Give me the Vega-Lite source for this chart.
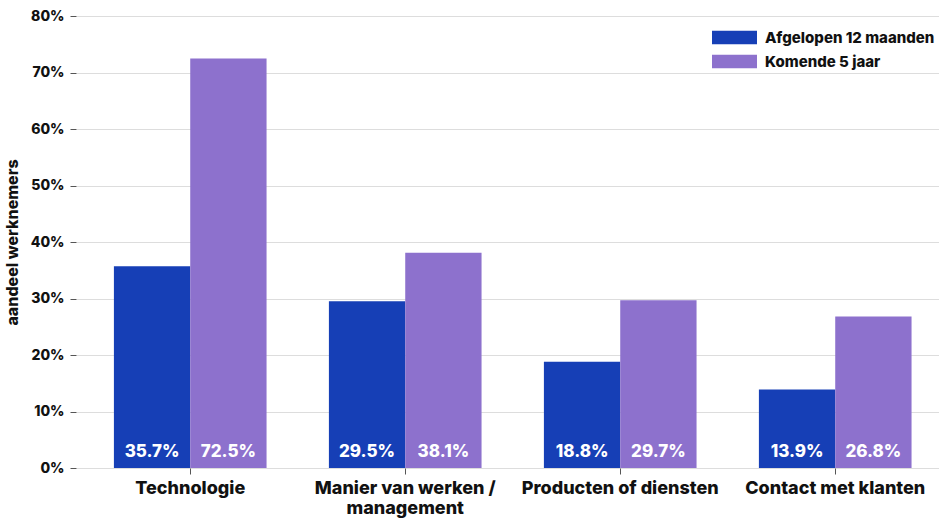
{
  "$schema": "https://vega.github.io/schema/vega-lite/v6.json",
  "autosize": "none",
  "width": 863,
  "height": 452,
  "padding": {"left": 76, "top": 16, "right": 0, "bottom": 50},
  "background": "white",
  "config": {
    "font": "Inter",
    "view": {"stroke": null}
  },
  "data": {
    "values": [
      {"categorie": "Technologie", "periode": "Afgelopen 12 maanden", "waarde": 35.7},
      {"categorie": "Technologie", "periode": "Komende 5 jaar", "waarde": 72.5},
      {"categorie": "Manier van werken / management", "periode": "Afgelopen 12 maanden", "waarde": 29.5},
      {"categorie": "Manier van werken / management", "periode": "Komende 5 jaar", "waarde": 38.1},
      {"categorie": "Producten of diensten", "periode": "Afgelopen 12 maanden", "waarde": 18.8},
      {"categorie": "Producten of diensten", "periode": "Komende 5 jaar", "waarde": 29.7},
      {"categorie": "Contact met klanten", "periode": "Afgelopen 12 maanden", "waarde": 13.9},
      {"categorie": "Contact met klanten", "periode": "Komende 5 jaar", "waarde": 26.8}
    ]
  },
  "transform": [
    {"calculate": "format(datum.waarde, '.1f') + '%'", "as": "label"}
  ],
  "encoding": {
    "x": {
      "field": "categorie",
      "type": "nominal",
      "sort": null,
      "scale": {"paddingInner": 0.29, "paddingOuter": 0.152, "align": 0.58},
      "axis": {
        "title": null,
        "labelAngle": 0,
        "labelFontSize": 18,
        "labelFontWeight": 800,
        "labelColor": "#111",
        "labelPadding": 5,
        "labelLineHeight": 20,
        "labelLimit": 0,
        "labelOverlap": false,
        "tickSize": 6,
        "tickColor": "#555",
        "domain": false,
        "labelExpr": "datum.label == 'Manier van werken / management' ? ['Manier van werken /', 'management'] : datum.label"
      }
    },
    "xOffset": {"field": "periode", "type": "nominal", "sort": null},
    "y": {
      "field": "waarde",
      "type": "quantitative",
      "scale": {"domain": [0, 80]},
      "axis": {
        "title": "aandeel werknemers",
        "titleFontSize": 16,
        "titleFontWeight": 800,
        "titleColor": "#111",
        "titlePadding": 10,
        "values": [0, 10, 20, 30, 40, 50, 60, 70, 80],
        "labelExpr": "datum.value + '%'",
        "labelFontSize": 14,
        "labelFontWeight": 800,
        "labelColor": "#111",
        "labelPadding": 6,
        "tickSize": 6,
        "tickColor": "#555",
        "domain": false,
        "gridColor": "#dddddd",
        "gridWidth": 1
      }
    }
  },
  "layer": [
    {
      "mark": {"type": "bar"},
      "encoding": {
        "color": {
          "field": "periode",
          "type": "nominal",
          "sort": null,
          "scale": {"domain": ["Afgelopen 12 maanden", "Komende 5 jaar"], "range": ["#163fb6", "#8d71cd"]},
          "legend": {
            "title": null,
            "orient": "none",
            "legendX": 651,
            "legendY": 14,
            "labelFontSize": 15,
            "labelFontWeight": 800,
            "labelColor": "#111",
            "labelLimit": 0,
            "symbolType": "M-3,-0.9H3V0.9H-3Z",
            "symbolSize": 225,
            "symbolStrokeWidth": 0,
            "rowPadding": 8,
            "labelOffset": 23,
            "symbolOffset": 0,
            "padding": 0,
            "fillColor": "white"
          }
        }
      }
    },
    {
      "mark": {"type": "text", "color": "white", "fontSize": 17, "fontWeight": 800, "baseline": "middle", "dy": -16},
      "encoding": {
        "y": {"datum": 0},
        "text": {"field": "label", "type": "nominal"},
        "detail": {"field": "periode"}
      }
    }
  ]
}
